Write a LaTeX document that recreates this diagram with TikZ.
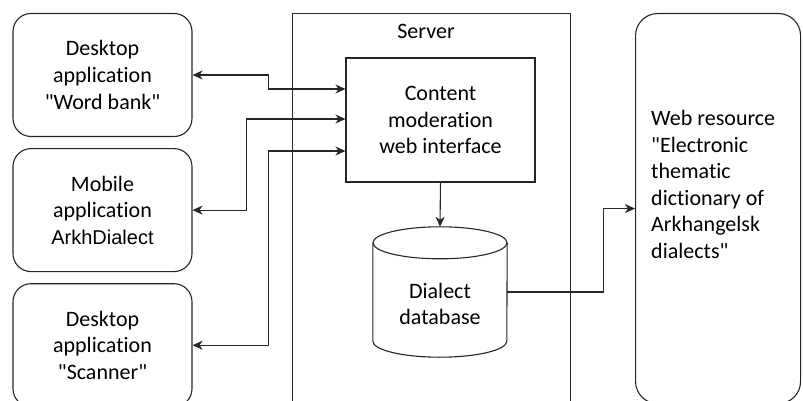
\documentclass[tikz,border=0pt]{standalone}
\usepackage{fontspec}
\setmainfont{Carlito}[Ligatures={TeXOff,CommonOff}]
\newfontfamily\arialfont{Liberation Sans}
\usetikzlibrary{arrows.meta, positioning}

\begin{document}
\begin{tikzpicture}[
      x=1pt, y=-1pt,
      node distance=11pt and 16pt,
      app/.style={draw=black!85, line width=1.1pt, rounded corners=18pt, minimum width=179pt, minimum height=123pt, inner sep=0pt, align=center, font=\fontsize{22}{26.6}\selectfont},
      plain/.style={draw=black!85, line width=1.1pt, inner sep=0pt, align=center, font=\fontsize{22}{26.6}\selectfont},
      txt/.style={inner sep=0pt, align=center, font=\fontsize{22}{26.6}\selectfont},
      outline/.style={draw=black!85, line width=1.1pt},
      arr/.style={-{Stealth[length=10pt, width=9pt, inset=3pt]}, line width=1.1pt, draw=black!85},
      biarr/.style={{Stealth[length=10pt, width=9pt, inset=3pt]}-{Stealth[length=10pt, width=9pt, inset=3pt]}, line width=1.1pt, draw=black!85}
    ]
    \useasboundingbox (0,0) rectangle (803,401);
    \clip (0,0) rectangle (803,401);

    % client applications
    \node[app] (wordbank) at (102.5,75) {Desktop\\application\\"Word bank"};
    \node[app, below=of wordbank] (mobile) {Mobile\\application\\{\arialfont\fontsize{20}{26.6}\selectfont ArkhDialect}};
    \node[app, below=of mobile] (scanner) {Desktop\\application\\"Scanner"};

    % server side
    \node[plain, minimum width=278pt, minimum height=420pt, anchor=north west] (server) at (292,13) {};
    \node[txt, anchor=base] (srvname) at (426,38.5) {Server};
    \node[plain, minimum width=189pt, minimum height=124pt] (moder) at (440.5,120) {Content\\moderation\\web interface};

    % database cylinder
    \node[minimum width=134pt, minimum height=130pt, inner sep=0pt] (dialectdb) at (440,292) {};
    \draw[outline] ([yshift=-16pt]dialectdb.north) ellipse [x radius=67pt, y radius=16pt];
    \draw[outline] ([yshift=-16pt]dialectdb.north west) -- ([yshift=16pt]dialectdb.south west)
      arc[start angle=180, end angle=360, x radius=67pt, y radius=16pt] -- ([yshift=-16pt]dialectdb.north east);
    \node[txt] (dbname) at (440,304) {Dialect\\database};

    % web resource
    \node[draw=black!85, line width=1.1pt, rounded corners=22pt, minimum width=165pt, minimum height=390pt, anchor=north west] (webres) at (635,13) {};
    \node[txt, align=left, anchor=north west] (webname) at (651,110) {Web resource\\"Electronic\\thematic\\dictionary of\\Arkhangelsk\\dialects"};

    \draw[biarr] (wordbank.east) -- ++(76,0) |- ([yshift=31pt]moder.west);
    \draw[biarr] ([yshift=1pt]moder.west) -- ++(-99,0) |- (mobile.east);
    \draw[biarr] ([yshift=-31pt]moder.west) -- ++(-77,0) |- (scanner.east);
    \draw[arr] (moder.south) -- (dialectdb.north);
    \draw[arr] (dialectdb.east) -- ++(96,0) |- (webres.west);
  \end{tikzpicture}
\end{document}
